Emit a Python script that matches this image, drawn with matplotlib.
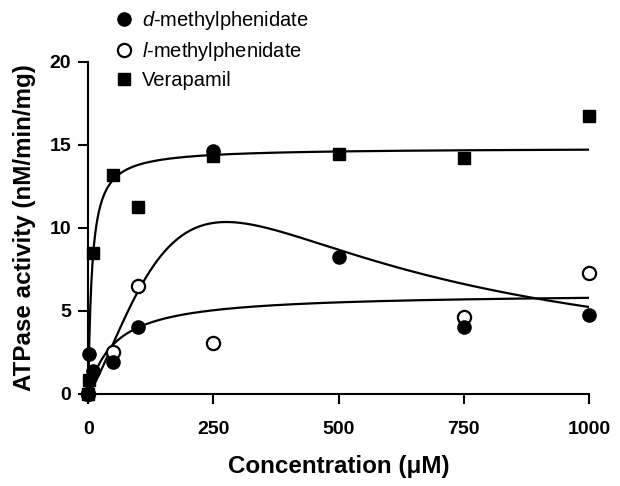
import numpy as np
import matplotlib
matplotlib.use("Agg")
import matplotlib.pyplot as plt
from matplotlib.lines import Line2D

plt.rcParams['font.family'] = ['Liberation Sans', 'DejaVu Sans']
plt.rcParams['mathtext.fontset'] = 'custom'
plt.rcParams['mathtext.it'] = 'Liberation Sans:italic'
plt.rcParams['mathtext.rm'] = 'Liberation Sans'

# ---- data ----
d_conc = [0, 1, 10, 50, 100, 250, 500, 750, 1000]
d_act = [0.0, 2.4, 1.4, 1.9, 4.0, 14.6, 8.25, 4.05, 4.75]

l_conc = [0, 50, 100, 250, 750, 1000]
l_act = [0.0, 2.5, 6.5, 3.05, 4.6, 7.3]

v_conc = [0, 1, 10, 50, 100, 250, 500, 750, 1000]
v_act = [0.0, 0.85, 8.45, 13.2, 11.25, 14.3, 14.45, 14.2, 16.75]

# fitted-curve parameters
verap_vmax, verap_km = 14.81, 7.4            # Michaelis-Menten
sat_vmax, sat_km = 6.08, 52.0                 # Michaelis-Menten
hump_vmax, hump_k, hump_n, hump_ki = 114.9, 982.0, 1.2, 50.0  # Hill + substrate inhibition

x_ticks = [0, 250, 500, 750, 1000]
y_ticks = [0, 5, 10, 15, 20]
legend_labels = ['$d$-methylphenidate', '$l$-methylphenidate', 'Verapamil']

W, H = 620, 486
fig = plt.figure(figsize=(W / 100, H / 100), dpi=100)
x0, x1, y0, y1 = 88.3, 589.0, 393.8, 61.7
ax = fig.add_axes([x0 / W, (H - y0) / H, (x1 - x0) / W, (y0 - y1) / H])

s = np.linspace(0, 1000, 1001)
lw = 1.6
ax.plot(s, verap_vmax * s / (verap_km + s), color='black', lw=lw, zorder=2)
ax.plot(s, sat_vmax * s / (sat_km + s), color='black', lw=lw, zorder=2)
ax.plot(s, hump_vmax * s ** hump_n / (s ** hump_n + hump_k ** hump_n + s ** (hump_n + 1) / hump_ki),
        color='black', lw=lw, zorder=2)

ms = 9.5
ax.plot(l_conc, l_act, 'o', ms=ms, mfc='white', mec='black', mew=1.6, ls='none', clip_on=False, zorder=3)
ax.plot(d_conc, d_act, 'o', ms=ms, mfc='black', mec='black', ls='none', clip_on=False, zorder=4)
ax.plot(v_conc, v_act, 's', ms=ms - 0.5, mfc='black', mec='black', ls='none', clip_on=False, zorder=5)

ax.set_xlim(0, 1000)
ax.set_ylim(0, 20)
ax.set_xticks(x_ticks)
ax.set_yticks(y_ticks)
for sp in ['top', 'right']:
    ax.spines[sp].set_visible(False)
for sp in ['left', 'bottom']:
    ax.spines[sp].set_linewidth(1.5)
ax.tick_params(direction='out', length=7.2, width=1.5, labelsize=14)
ax.tick_params(axis='x', pad=12.5)
ax.tick_params(axis='y', pad=5)
for lab in ax.get_xticklabels() + ax.get_yticklabels():
    lab.set_fontweight('bold')

ax.set_xlabel('Concentration (\u03bcM)', fontsize=17.4, fontweight='bold', labelpad=12)
ax.set_ylabel('ATPase activity (nM/min/mg)', fontsize=17.4, fontweight='bold', labelpad=10)

handles = [
    Line2D([], [], marker='o', ls='none', ms=ms, mfc='black', mec='black'),
    Line2D([], [], marker='o', ls='none', ms=ms, mfc='white', mec='black', mew=1.6),
    Line2D([], [], marker='s', ls='none', ms=ms - 0.5, mfc='black', mec='black'),
]
fig.legend(handles, legend_labels, loc='upper left', bbox_to_anchor=(114 / W, (H - 9.0) / H),
           frameon=False, fontsize=14.5, handlelength=1.0, handletextpad=0.4,
           labelspacing=0.39, borderpad=0, borderaxespad=0)

fig.savefig('out.png', dpi=100)
